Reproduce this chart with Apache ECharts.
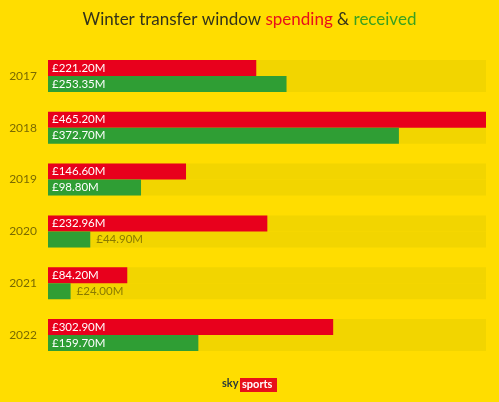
<!DOCTYPE html>
<html><head><meta charset="utf-8">
<script src="https://cdn.jsdelivr.net/npm/echarts@6/dist/echarts.min.js"></script>
<style>html,body{margin:0;padding:0;background:#FFDD00;}#c{width:499px;height:402px;}</style>
</head><body><div id="c"></div>
<script>
const years = ['2017','2018','2019','2020','2021','2022'];
const spending = [221.20, 465.20, 146.60, 232.96, 84.20, 302.90];
const received = [253.35, 372.70, 98.80, 44.90, 24.00, 159.70];
const axisMax = 465.2;

const chart = echarts.init(document.getElementById('c'), null, {renderer:'canvas'});
const fmt = v => '£' + v.toFixed(2) + 'M';
function mk(vals){
  return vals.map(v => v < 60 ? {value:v, label:{position:'right', color:'#8a7a00', distance:6}} : v);
}
const lbl = {show:true, position:'insideLeft', distance:4, color:'#ffffff', fontSize:11.5, fontFamily:'Lato', formatter:p=>fmt(p.value)};
chart.setOption({
  backgroundColor:'#FFDD00',
  animation:false,
  grid:{left:48, right:13, top:50, bottom:41, containLabel:false},
  xAxis:{type:'value', min:0, max:axisMax, show:false},
  yAxis:{type:'category', data:years, inverse:true,
    axisLine:{show:false}, axisTick:{show:false},
    axisLabel:{color:'#7a6a00', fontSize:12, fontFamily:'Lato', margin:11}},
  title:{show:false},
  graphic:[
    {type:'text', left:'center', top:11, style:{rich:{
      d:{fill:'#33331a', fontSize:17, fontFamily:'Lato'},
      r:{fill:'#e8101a', fontSize:17, fontFamily:'Lato'},
      g:{fill:'#3aa020', fontSize:17, fontFamily:'Lato'}},
      text:'{d|Winter transfer window }{r|spending}{d| & }{g|received}'}},
    {type:'text', left:222, top:378, style:{text:'sky', fill:'#2a3a3a', font:'bold 11px Lato'}},
    {type:'rect', left:240, top:378, shape:{width:37, height:14}, style:{fill:'#e8101a'}},
    {type:'text', left:242, top:379, style:{text:'sports', fill:'#ffffff', font:'bold 11px Lato'}}
  ],
  series:[
    {type:'bar', name:'spending', data:mk(spending), barWidth:16, barGap:'0%',
     itemStyle:{color:'#e8001c'}, showBackground:true, backgroundStyle:{color:'#F2D500'}, label:lbl},
    {type:'bar', name:'received', data:mk(received), barWidth:16, barGap:'0%',
     itemStyle:{color:'#2f9e34'}, showBackground:true, backgroundStyle:{color:'#F2D500'}, label:lbl}
  ]
});
</script></body></html>
